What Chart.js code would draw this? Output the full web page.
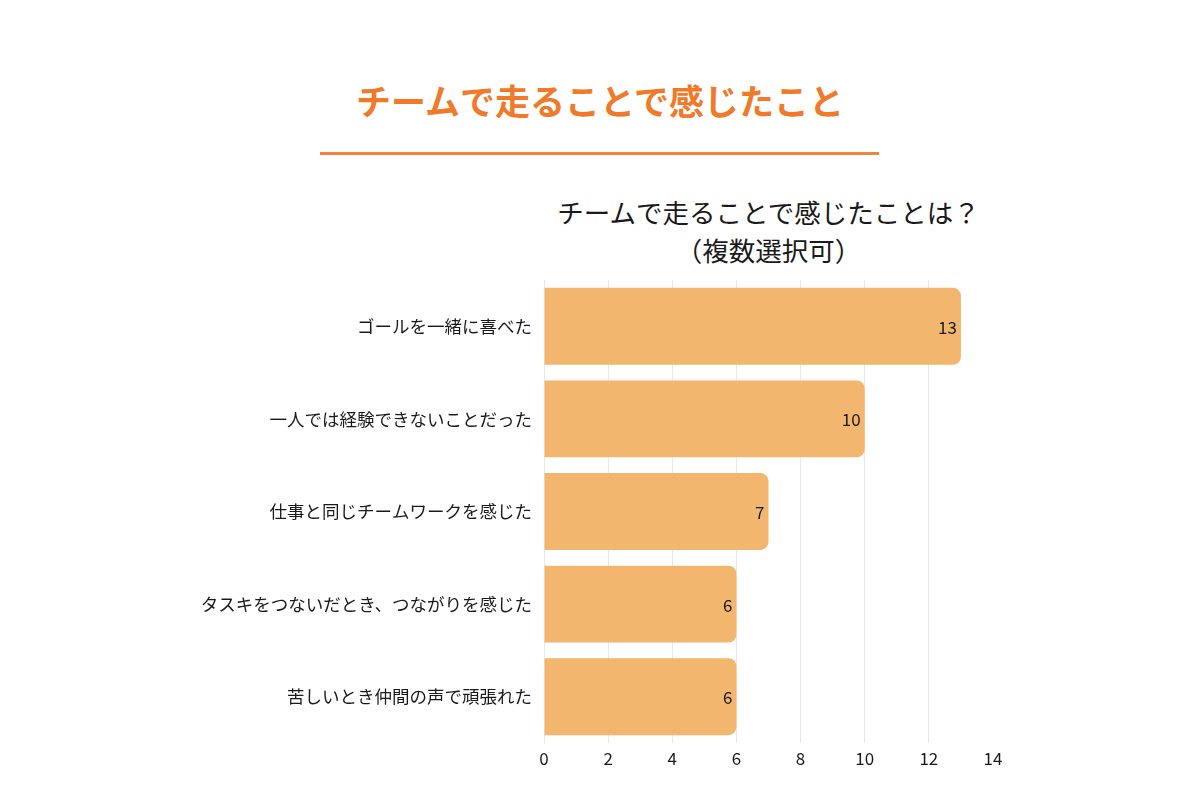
<!DOCTYPE html>
<html>
<head>
<meta charset="UTF-8" />
<script src="https://cdn.jsdelivr.net/npm/chart.js@4"></script>
<style>
  body { margin: 0; background: #fff; font-family: "Noto Sans CJK JP", "Noto Sans", sans-serif; }
  .wrap { position: relative; width: 1200px; height: 800px; }
  .heading { position: absolute; left: 0; top: 74px; width: 1200px; text-align: center; color: #F07A2A; font-size: 35px; font-weight: 700; line-height: 52px; margin: 0; }
  .rule { position: absolute; left: 320px; top: 152px; width: 559px; height: 3px; background: #F0843A; }
  .sub { position: absolute; left: 444px; top: 193px; width: 649px; text-align: center; color: #1a1a1a; font-size: 26.5px; line-height: 38px; white-space: nowrap; }
  canvas { position: absolute; left: 0; top: 0; }
</style>
</head>
<body>
<div class="wrap">
  <h1 class="heading">チームで走ることで感じたこと</h1>
  <div class="rule"></div>
  <div class="sub">チームで走ることで感じたことは？<br>（複数選択可）</div>
  <canvas id="chart" width="1200" height="800"></canvas>
</div>
<script>
  const categories = [
    "ゴールを一緒に喜べた",
    "一人では経験できないことだった",
    "仕事と同じチームワークを感じた",
    "タスキをつないだとき、つながりを感じた",
    "苦しいとき仲間の声で頑張れた"
  ];
  const counts = [13, 10, 7, 6, 6];
  const xTicks = [0, 2, 4, 6, 8, 10, 12, 14];

  const barColor = "#F3B66E";
  const fontFamily = '"Noto Sans CJK JP", "Noto Sans", sans-serif';

  // value labels at the end of each bar
  const valueLabels = {
    id: "valueLabels",
    afterDatasetsDraw(chart) {
      const ctx = chart.ctx;
      const meta = chart.getDatasetMeta(0);
      ctx.save();
      ctx.font = "17px " + fontFamily;
      ctx.fillStyle = "#1a1a1a";
      ctx.textAlign = "right";
      ctx.textBaseline = "middle";
      meta.data.forEach((bar, i) => {
        ctx.fillText(String(counts[i]), bar.x - 4, bar.y + 1);
      });
      ctx.restore();
    }
  };

  new Chart(document.getElementById("chart"), {
    type: "bar",
    data: {
      labels: categories,
      datasets: [{
        data: counts,
        backgroundColor: barColor,
        borderRadius: { topRight: 8, bottomRight: 8, topLeft: 0, bottomLeft: 0 },
        borderSkipped: false,
        barPercentage: 0.83,
        categoryPercentage: 1
      }]
    },
    options: {
      indexAxis: "y",
      responsive: false,
      animation: false,
      layout: { padding: { top: 280, right: 207, bottom: 26, left: 0 } },
      plugins: { legend: { display: false }, tooltip: { enabled: false } },
      scales: {
        x: {
          min: 0,
          max: 14,
          afterBuildTicks: (s) => { s.ticks = xTicks.map(v => ({ value: v })); },
          afterFit: (s) => { s.height = 31; },
          grid: { color: (c) => c.tick && c.tick.value === 14 ? "rgba(0,0,0,0)" : "#e8e8e8", drawTicks: false },
          border: { display: false },
          ticks: { padding: 5, color: "#1a1a1a", font: { family: fontFamily, size: 17 } }
        },
        y: {
          afterFit: (s) => { s.width = 544; },
          grid: { display: false },
          border: { display: true, color: "#e8e8e8" },
          ticks: { padding: 4, color: "#1a1a1a", font: { family: fontFamily, size: 17.5 } }
        }
      }
    },
    plugins: [valueLabels]
  });
</script>
</body>
</html>
